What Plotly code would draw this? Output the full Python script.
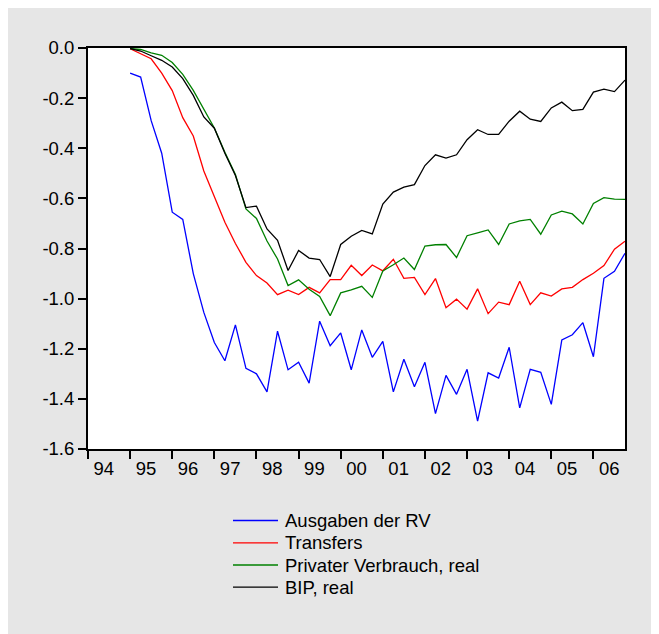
import plotly.graph_objects as go

years = list(range(1995, 2007))
quarters = [y + q / 4 for y in years for q in range(4)]

ausgaben_rv = [
    -0.10, -0.116, -0.29, -0.42,
    -0.655, -0.684, -0.90, -1.055,
    -1.175, -1.248, -1.105, -1.278,
    -1.30, -1.372, -1.13, -1.284,
    -1.254, -1.337, -1.09, -1.188,
    -1.137, -1.284, -1.125, -1.234,
    -1.171, -1.372, -1.242, -1.352,
    -1.254, -1.459, -1.306, -1.382,
    -1.282, -1.489, -1.296, -1.317,
    -1.194, -1.436, -1.282, -1.294,
    -1.422, -1.165, -1.144, -1.096,
    -1.232, -0.919, -0.891, -0.819,
]
transfers = [
    -0.003, -0.022, -0.043, -0.10,
    -0.17, -0.278, -0.351, -0.491,
    -0.595, -0.695, -0.78, -0.855,
    -0.908, -0.938, -0.984, -0.966,
    -0.984, -0.955, -0.977, -0.924,
    -0.924, -0.867, -0.908, -0.866,
    -0.889, -0.843, -0.919, -0.915,
    -0.984, -0.92, -1.036, -1.002,
    -1.042, -0.961, -1.06, -1.014,
    -1.024, -0.931, -1.024, -0.977,
    -0.99, -0.961, -0.955, -0.924,
    -0.899, -0.868, -0.803, -0.771,
]
privater_verbrauch = [
    -0.002, -0.006, -0.019, -0.029,
    -0.058, -0.105, -0.169, -0.243,
    -0.319, -0.416, -0.505, -0.642,
    -0.68, -0.77, -0.842, -0.948,
    -0.925, -0.963, -0.991, -1.068,
    -0.977, -0.965, -0.951, -0.995,
    -0.89, -0.865, -0.838, -0.884,
    -0.79, -0.785, -0.784, -0.836,
    -0.749, -0.738, -0.726, -0.784,
    -0.702, -0.69, -0.684, -0.743,
    -0.666, -0.651, -0.662, -0.702,
    -0.62, -0.597, -0.603, -0.604,
]
bip_real = [
    -0.002, -0.012, -0.031, -0.049,
    -0.076, -0.122, -0.189, -0.275,
    -0.32, -0.42, -0.509, -0.637,
    -0.631, -0.722, -0.767, -0.888,
    -0.808, -0.838, -0.844, -0.912,
    -0.784, -0.751, -0.728, -0.742,
    -0.623, -0.575, -0.555, -0.545,
    -0.469, -0.426, -0.439, -0.426,
    -0.366, -0.326, -0.345, -0.345,
    -0.292, -0.252, -0.284, -0.293,
    -0.239, -0.216, -0.25, -0.245,
    -0.176, -0.164, -0.174, -0.128,
]

series_names = ["Ausgaben der RV", "Transfers", "Privater Verbrauch, real", "BIP, real"]
series_colors = ["#0000ff", "#ff0000", "#008000", "#000000"]
series_values = [ausgaben_rv, transfers, privater_verbrauch, bip_real]

x_tick_years = list(range(1994, 2007))
x_tick_labels = ["94", "95", "96", "97", "98", "99", "00", "01", "02", "03", "04", "05", "06"]
y_tick_vals = [0.0, -0.2, -0.4, -0.6, -0.8, -1.0, -1.2, -1.4, -1.6]
y_tick_labels = ["0.0", "-0.2", "-0.4", "-0.6", "-0.8", "-1.0", "-1.2", "-1.4", "-1.6"]

FONT = "Liberation Sans, Arial, sans-serif"

fig = go.Figure()
for name, color, vals in zip(series_names, series_colors, series_values):
    fig.add_trace(go.Scatter(
        x=quarters, y=vals, mode="lines", name=name,
        line=dict(color=color, width=1.3),
    ))

# Legend block below the plot (lines + labels), placed in paper coordinates
PLOT_W, PLOT_H = 537.0, 401.0
legend_rows_px = [519.5, 541.8, 564.0, 586.2]   # row centres in page pixels
shapes = []
annotations = []
for (name, color), row in zip(zip(series_names, series_colors), legend_rows_px):
    yp = (448.0 - row) / PLOT_H
    shapes.append(dict(type="line", xref="paper", yref="paper",
                       x0=(233 - 88) / PLOT_W, x1=(278 - 88) / PLOT_W,
                       y0=yp, y1=yp, line=dict(color=color, width=1.3)))
    annotations.append(dict(xref="paper", yref="paper", x=(283 - 88) / PLOT_W, y=yp,
                            xanchor="left", yanchor="middle", showarrow=False,
                            text=name, font=dict(family=FONT, size=18.5, color="#000000")))

fig.update_layout(
    width=651, height=626,
    margin=dict(l=80, r=34, t=40, b=185),
    paper_bgcolor="#e6e6e6",
    plot_bgcolor="#ffffff",
    font=dict(family=FONT, size=18, color="#000000"),
    showlegend=False,
    xaxis=dict(
        range=[1994, 2006.75],
        tickvals=[y + 0.375 for y in x_tick_years],
        ticktext=x_tick_labels,
        ticks="", showgrid=False, zeroline=False,
        showline=True, linecolor="#000000", linewidth=2, mirror=True,
        tickfont=dict(size=18.5), ticklabelstandoff=2,
        minor=dict(tickvals=x_tick_years, ticks="outside", ticklen=8,
                   tickwidth=1.5, tickcolor="#000000", showgrid=False),
    ),
    yaxis=dict(
        range=[-1.6, 0.0],
        tickvals=y_tick_vals, ticktext=y_tick_labels,
        ticks="outside", ticklen=8, tickwidth=1.5, tickcolor="#000000",
        showgrid=False, zeroline=False,
        showline=True, linecolor="#000000", linewidth=2, mirror=True,
        tickfont=dict(size=18.5),
    ),
    shapes=shapes,
    annotations=annotations,
)

fig.write_html("out.html")
